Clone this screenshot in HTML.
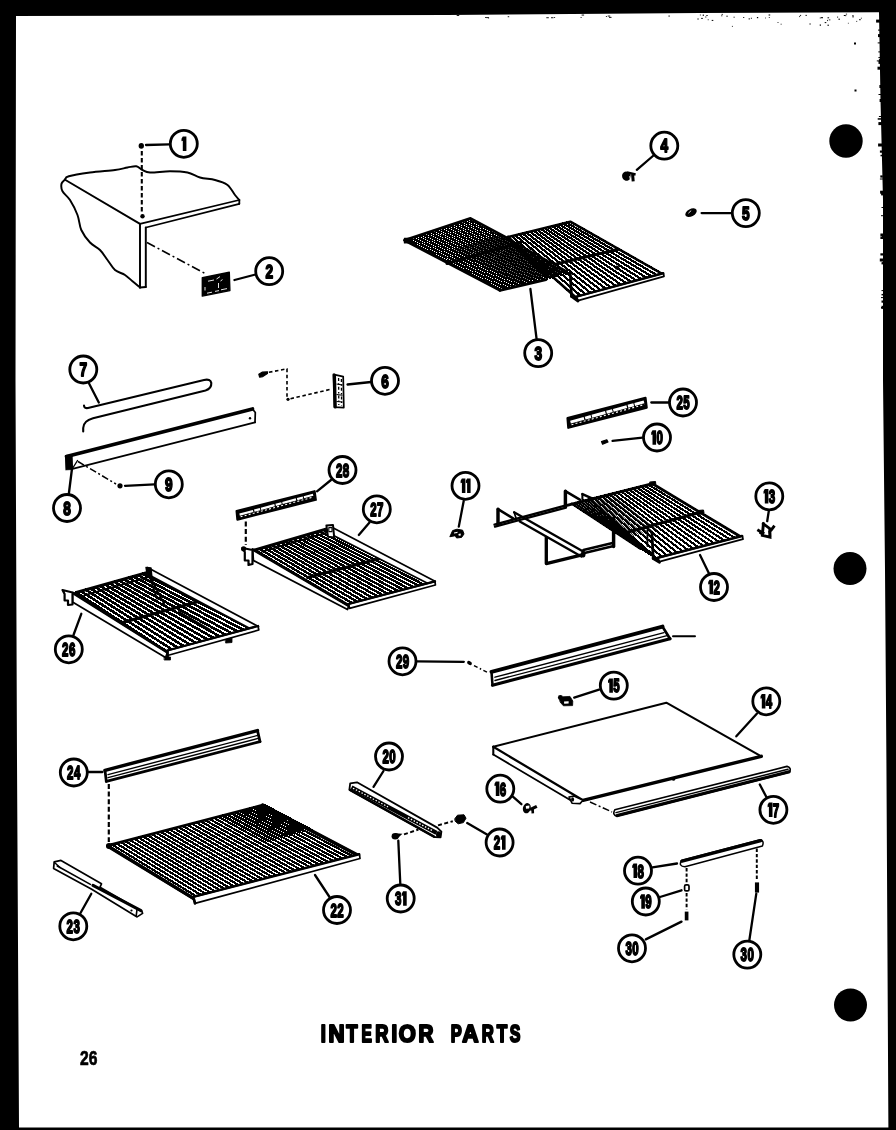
<!DOCTYPE html>
<html><head><meta charset="utf-8"><title>Interior Parts</title>
<style>
html,body{margin:0;padding:0;background:#000;}
body{width:896px;height:1130px;overflow:hidden;position:relative;}
svg{position:absolute;left:0;top:0;display:block;}
text{font-family:"Liberation Sans",sans-serif;font-weight:bold;}
</style></head><body>
<svg width="896" height="1130" viewBox="0 0 896 1130">
<defs><filter id="nf" x="0" y="0" width="896" height="1130" filterUnits="userSpaceOnUse"><feOffset dx="0" dy="0"/></filter></defs>
<rect x="0" y="0" width="896" height="1130" fill="#000"/>
<polygon points="16,16 448,15 700,13 879,12.3 880.5,100 883,200 883,380 885,570 886.4,760 888.4,1127.5 19,1127.5 17,760 15.5,380" fill="#fff"/>
<g stroke="#000" fill="none" stroke-linecap="round" stroke-linejoin="round">
<g fill="#000" stroke="none"><rect x="750.9" y="17.7" width="0.8" height="1.2"/><rect x="707.7" y="19.4" width="1.0" height="0.8"/><rect x="706.2" y="15.1" width="1.6" height="0.8"/><rect x="845.4" y="15.0" width="0.8" height="1.2"/><rect x="800.1" y="14.9" width="1.0" height="1.0"/><rect x="768.8" y="17.2" width="1.0" height="0.8"/><rect x="799.3" y="15.9" width="0.8" height="1.2"/><rect x="701.2" y="17.9" width="1.6" height="1.0"/><rect x="777.5" y="22.2" width="1.0" height="0.8"/><rect x="821.4" y="17.2" width="1.6" height="1.0"/><rect x="827.1" y="19.9" width="0.8" height="1.2"/><rect x="768.6" y="14.5" width="1.6" height="1.0"/><rect x="697.4" y="18.5" width="1.3" height="1.0"/><rect x="820.7" y="17.3" width="1.6" height="0.8"/><rect x="847.9" y="22.8" width="0.8" height="0.8"/><rect x="827.5" y="17.3" width="1.6" height="1.0"/><rect x="824.7" y="22.1" width="1.6" height="1.0"/><rect x="721.6" y="13.9" width="1.3" height="0.8"/><rect x="828.8" y="19.5" width="1.6" height="0.8"/><rect x="721.3" y="15.3" width="1.0" height="1.0"/><rect x="852.4" y="16.2" width="1.3" height="1.2"/><rect x="856.2" y="20.9" width="1.0" height="0.8"/><rect x="733.6" y="16.7" width="1.0" height="1.0"/><rect x="743.0" y="17.0" width="1.3" height="0.8"/><rect x="819.8" y="17.5" width="0.8" height="1.0"/><rect x="859.1" y="19.2" width="1.6" height="1.0"/><rect x="765.0" y="17.6" width="0.8" height="0.8"/><rect x="702.7" y="14.6" width="1.3" height="1.2"/><rect x="699.9" y="14.5" width="0.8" height="1.0"/><rect x="805.4" y="14.9" width="1.6" height="0.8"/><rect x="809.3" y="23.6" width="1.6" height="0.8"/><rect x="711.7" y="19.9" width="1.6" height="1.0"/><rect x="748.6" y="18.4" width="1.3" height="1.0"/><rect x="845.8" y="13.7" width="1.3" height="0.8"/><rect x="819.7" y="24.5" width="1.3" height="1.2"/><rect x="852.3" y="15.2" width="1.3" height="0.8"/><rect x="756.9" y="17.0" width="1.3" height="1.2"/><rect x="731.9" y="25.9" width="1.0" height="0.8"/><rect x="843.8" y="15.0" width="1.6" height="1.0"/><rect x="827.4" y="24.7" width="1.6" height="1.0"/><rect x="726.4" y="15.7" width="1.3" height="1.0"/><rect x="705.1" y="16.6" width="1.3" height="0.8"/><rect x="780.7" y="23.7" width="0.8" height="1.0"/><rect x="860.9" y="17.7" width="0.8" height="1.0"/><rect x="837.1" y="16.6" width="1.0" height="1.0"/><rect x="838.4" y="18.7" width="1.6" height="1.0"/><rect x="546.3" y="17.3" width="2.5" height="0.9"/><rect x="488.1" y="17.5" width="1.0" height="0.9"/><rect x="486.3" y="17.2" width="2.5" height="0.9"/><rect x="485.1" y="17.0" width="1.5" height="0.9"/><rect x="607.7" y="15.6" width="2.5" height="0.9"/><rect x="581.6" y="14.6" width="2.5" height="0.9"/><rect x="605.9" y="16.1" width="1.0" height="0.9"/><rect x="554.1" y="17.1" width="1.0" height="0.9"/><rect x="456.7" y="15.1" width="2.5" height="0.9"/><rect x="507.7" y="16.3" width="1.5" height="0.9"/><rect x="580.6" y="17.0" width="1.0" height="0.9"/><rect x="668.4" y="15.6" width="1.5" height="0.9"/><rect x="609.0" y="16.9" width="2.5" height="0.9"/><rect x="551.0" y="17.3" width="2.5" height="0.9"/><rect x="878.4" y="57.1" width="2.5" height="1.0"/><rect x="881.5" y="290.1" width="2.5" height="1.0"/><rect x="881.5" y="259.7" width="2.5" height="1.5"/><rect x="876.8" y="60.4" width="4.2" height="1.0"/><rect x="880.1" y="190.7" width="3.0" height="3.0"/><rect x="882.0" y="262.3" width="2.0" height="1.0"/><rect x="878.5" y="94.0" width="3.0" height="1.0"/><rect x="879.8" y="258.5" width="4.2" height="3.0"/><rect x="881.1" y="192.4" width="2.0" height="3.0"/><rect x="877.7" y="118.2" width="4.2" height="1.5"/><rect x="880.4" y="233.5" width="3.6" height="3.0"/><rect x="880.3" y="175.4" width="2.5" height="2.2"/><rect x="881.5" y="305.8" width="2.5" height="3.0"/><rect x="878.9" y="59.1" width="2.0" height="3.0"/><rect x="880.5" y="154.8" width="2.0" height="1.5"/><rect x="879.9" y="150.5" width="2.5" height="2.2"/><rect x="881.5" y="262.2" width="2.5" height="2.2"/><rect x="878.5" y="60.9" width="2.5" height="3.0"/><rect x="879.4" y="85.0" width="2.0" height="3.0"/><rect x="881.5" y="293.9" width="2.5" height="1.5"/><rect x="877.5" y="66.7" width="3.6" height="3.0"/><rect x="879.5" y="122.5" width="2.5" height="2.2"/><rect x="878.9" y="116.0" width="3.0" height="1.0"/><rect x="878.4" y="122.1" width="3.6" height="3.0"/><rect x="880.4" y="236.8" width="3.6" height="2.2"/><rect x="879.9" y="178.5" width="3.0" height="1.0"/><rect x="878.3" y="51.4" width="2.5" height="1.0"/><rect x="877.7" y="42.4" width="3.0" height="1.0"/><rect x="881.5" y="300.5" width="2.5" height="2.2"/><rect x="880.4" y="253.3" width="3.6" height="2.2"/><rect x="878.1" y="143.5" width="4.2" height="3.0"/><rect x="882.0" y="235.9" width="2.0" height="2.2"/><rect x="878.0" y="34.1" width="2.5" height="3.0"/><rect x="881.0" y="297.1" width="3.0" height="1.0"/><rect x="881.0" y="215.2" width="3.0" height="1.0"/><rect x="881.5" y="207.0" width="2.5" height="1.0"/><rect x="879.6" y="99.0" width="2.0" height="3.0"/><rect x="876.1" y="19.6" width="4.2" height="3.0"/><rect x="881.0" y="307.0" width="3.0" height="1.5"/><rect x="878.0" y="29.6" width="2.5" height="1.0"/><rect x="854.0" y="42.5" width="2" height="2"/><rect x="854.5" y="89.5" width="2" height="2"/></g>
<circle cx="846" cy="141" r="16.7" fill="#000" stroke="none"/>
<circle cx="850" cy="568.6" r="16.5" fill="#000" stroke="none"/>
<circle cx="850.5" cy="1005" r="16.5" fill="#000" stroke="none"/>
<path d="M65,179.5 C65.6,179 64.6,177.5 68.8,176.3 C73,175.1 82.3,173.6 90,172.5 C97.7,171.4 108.8,170.8 115,170 C121.2,169.2 124,168.1 127.5,167.5 C131.1,166.9 133.8,165.9 136.3,166.3 C138.8,166.7 140.2,169 142.5,170 C144.8,171 145.4,172.3 150,172.5 C154.6,172.7 163.8,171.3 170,171.3 C176.2,171.3 182.5,171.5 187.5,172.5 C192.5,173.5 195.4,176.2 200,177.5 C204.6,178.8 210.4,178.8 215,180 C219.6,181.2 224.2,182.5 227.5,185 C230.8,187.5 233,192.5 235,195 C237,197.5 238.6,199.2 239.3,200" stroke-width="1.95" fill="none"/>
<path d="M65,179.5 C64.4,180.2 61.9,181.8 61.5,183.8 C61.1,185.8 61.1,188.6 62.5,191.3 C63.9,194 67.5,196.1 70,200 C72.5,203.9 75.6,210 77.5,215 C79.4,220 79.2,225.4 81.3,230 C83.4,234.6 86.9,239.2 90,242.5 C93.1,245.8 97.1,247.1 100,250 C102.9,252.9 105,256.7 107.5,260 C110,263.3 112.1,267.5 115,270 C117.9,272.5 122.1,273.1 125,275 C127.9,276.9 130,279.2 132.5,281.3 C135,283.4 138.8,286.5 140,287.5" stroke-width="1.95" fill="none"/>
<line x1="239.3" y1="200" x2="239.3" y2="203.8" stroke-width="1.84"/>
<line x1="239.3" y1="200" x2="141" y2="223.6" stroke-width="1.72"/>
<line x1="239.3" y1="203.8" x2="146" y2="227.5" stroke-width="1.72"/>
<line x1="65.5" y1="180" x2="140" y2="223.8" stroke-width="1.95"/>
<line x1="140" y1="223.8" x2="140" y2="287.5" stroke-width="1.95"/>
<line x1="145.8" y1="227.5" x2="145.8" y2="287" stroke-width="1.95"/>
<line x1="140" y1="287.5" x2="145.8" y2="287" stroke-width="1.84"/>
<ellipse cx="141.3" cy="145.8" rx="2.7" ry="2.9" fill="#000" stroke="none" transform="rotate(0 141.3 145.8)"/>
<line x1="141.8" y1="151" x2="141.8" y2="213" stroke-width="2.07" stroke-dasharray="4.5 2.5" stroke-linecap="butt"/>
<ellipse cx="142.5" cy="216.3" rx="2.2" ry="2.2" fill="#000" stroke="none" transform="rotate(0 142.5 216.3)"/>
<line x1="147" y1="242.5" x2="207" y2="274.5" stroke-width="1.61" stroke-dasharray="9 3 2 3" stroke-linecap="butt"/>
<path d="M202.3,277.7 L229.3,272.2 L229.9,290.6 L202.3,296.1 Z" stroke-width="1.38" fill="#000"/>
<path d="M208,281.2 L214,280 M216.5,279 L220,276.6 M220.5,281 L222.5,279.6 M218.5,283 L218.5,288 M205,287 L205,290.5 M207,293.2 L212,292.2 M215,291.4 L219,290.6 M221,289.8 L227,288.6" stroke="#fff" stroke-width="0.9" stroke-linecap="butt"/>
<path d="M404.4,240.2 L499.9,290.4 M406.5,239.5 L502.2,289.9 M408.7,238.8 L504.5,289.3 M410.8,238.1 L506.8,288.8 M412.9,237.4 L509,288.2 M415.1,236.7 L511.3,287.7 M417.2,236 L513.6,287.1 M419.3,235.3 L515.9,286.6 M421.5,234.6 L518.2,286 M423.6,233.9 L520.5,285.5 M425.7,233.2 L522.7,284.9 M427.9,232.5 L525,284.4 M430,231.8 L527.3,283.9 M432.1,231.1 L529.6,283.3 M434.3,230.4 L531.9,282.8 M436.4,229.7 L534.2,282.2 M438.5,228.9 L536.4,281.7 M440.6,228.2 L538.7,281.1 M442.8,227.5 L541,280.6 M444.9,226.8 L543.3,280 M447,226.1 L545.6,279.5 M449.2,225.4 L547.9,279 M451.3,224.7 L550.1,278.4 M453.4,224 L552.4,277.9 M455.6,223.3 L554.7,277.3 M457.7,222.6 L557,276.8 M459.8,221.9 L559.3,276.2 M462,221.2 L561.6,275.7 M464.1,220.5 L563.8,275.1 M466.2,219.8 L566.1,274.6 M468.4,219.1 L568.4,274 M470.5,218.4 L570.7,273.5" stroke-width="1.35" fill="none" shape-rendering="crispEdges"/>
<path d="M499.9,290.4 L404.4,240.2 L470.5,218.4 L507,238" stroke-width="2.76" fill="none"/>
<line x1="499.9" y1="290.4" x2="546" y2="279.6" stroke-width="2.76"/>
<line x1="447" y1="263.5" x2="520.5" y2="242.5" stroke-width="2.99"/>
<path d="M404.4,238.4 L412,238.2 L412,242.6 L404.4,243 Z" stroke-width="1.15" fill="#000"/>
<path d="M454.3,248.8 L517.4,282.5 M456.5,248.2 L519.6,281.9 M458.6,247.6 L521.9,281.4 M460.8,246.9 L524.1,280.8 M462.9,246.3 L526.4,280.3 M465.1,245.6 L528.6,279.8 M467.2,245 L530.9,279.2 M469.4,244.3 L533.1,278.7 M471.5,243.7 L535.3,278.1 M473.7,243 L537.6,277.6 M475.8,242.4 L539.8,277 M478,241.7 L542.1,276.5 M480.1,241.1 L544.3,275.9 M482.3,240.4 L546.6,275.4 M484.4,239.8 L548.8,274.8 M486.6,239.1 L551.1,274.3 M488.7,238.5 L553.3,273.8 M490.9,237.9 L555.6,273.2 M493,237.2 L557.8,272.7 M495.2,236.6 L560,272.1 M497.3,235.9 L562.3,271.6 M499.5,235.3 L564.5,271 M501.6,234.6 L566.8,270.5" stroke-width="0.8" fill="none"/>
<path d="M508,237.1 L576.5,298 M511.7,236.2 L581.6,296.6 M515.3,235.3 L586.6,295.2 M519,234.4 L591.7,293.8 M522.7,233.5 L596.7,292.4 M526.3,232.6 L601.8,290.9 M530,231.7 L606.9,289.5 M533.7,230.8 L611.9,288.1 M537.3,229.9 L617,286.7 M541,228.9 L622,285.3 M544.6,228 L627.1,283.9 M548.3,227.1 L632.1,282.5 M552,226.2 L637.2,281.1 M555.6,225.3 L642.3,279.6 M559.3,224.4 L647.3,278.2 M563,223.5 L652.4,276.8 M566.6,222.6 L657.4,275.4 M570.3,221.7 L662.5,274" stroke-width="2.2" fill="none" shape-rendering="crispEdges"/>
<path d="M576.5,298 L508,237.1 L570.3,221.7 L662.5,274" stroke-width="2.53" fill="none"/>
<line x1="555.2" y1="264.2" x2="618.5" y2="249.2" stroke-width="2.99"/>
<line x1="508" y1="237.1" x2="546" y2="276" stroke-width="2.99"/>
<path d="M576.5,296.6 L663.5,273.2 L664,276.4 L578,300.6 Z" stroke-width="1.72" fill="#fff"/>
<line x1="576.5" y1="296.6" x2="663" y2="273.2" stroke-width="2.53"/>
<line x1="570.3" y1="274.3" x2="571.5" y2="296.4" stroke-width="2.76"/>
<line x1="571.5" y1="296.4" x2="578" y2="301" stroke-width="2.76"/>
<ellipse cx="617" cy="267.6" rx="2.2" ry="2.2" fill="#000" stroke="none" transform="rotate(0 617 267.6)"/>
<ellipse cx="626.4" cy="176.2" rx="4.3" ry="4.7" fill="#000" stroke="none" transform="rotate(-20 626.4 176.2)"/>
<path d="M627,172.6 L635.6,174.4" stroke-width="2.6" stroke-linecap="butt"/>
<path d="M632.6,174.5 L633.2,181.4" stroke-width="3.0" stroke-linecap="butt"/>
<path d="M629.8,176.2 L630.6,180.6" stroke="#fff" stroke-width="1.1" stroke-linecap="butt"/>
<ellipse cx="691" cy="212.7" rx="6.2" ry="3.7" fill="#000" stroke="none" transform="rotate(-28 691 212.7)"/>
<path d="M688.4,213.2 L691.2,210.6" stroke="#fff" stroke-width="0.9" stroke-linecap="butt"/>
<path d="M84,405.5 Q84,408.6 88,408 L204,380 Q210.5,378.6 211.3,383 Q211.6,388.6 205.5,390.4 L93,418.3 Q83.6,420.8 83.2,428 L83.2,431.5" stroke-width="2.1" fill="none"/>
<line x1="66.5" y1="456.5" x2="252.5" y2="409" stroke-width="3.68"/>
<line x1="72.5" y1="468.8" x2="255" y2="422.3" stroke-width="1.84"/>
<path d="M252.5,409 L255.3,412.5 L255,422.3" stroke-width="1.72" fill="none"/>
<ellipse cx="250" cy="418.3" rx="1.2" ry="1.2" fill="#000" stroke="none" transform="rotate(0 250 418.3)"/>
<path d="M65.5,455.5 L72,455 L72.5,469.5 L66,469.8 Z" stroke-width="1.15" fill="#000"/>
<line x1="77.5" y1="460.5" x2="72.8" y2="468" stroke-width="1.38"/>
<line x1="78" y1="461.5" x2="116" y2="484" stroke-width="1.49" stroke-dasharray="7 2.5 2 2.5" stroke-linecap="butt"/>
<ellipse cx="120" cy="485.8" rx="2.6" ry="2.6" fill="#000" stroke="none" transform="rotate(0 120 485.8)"/>
<path d="M258.8,374.2 L262.5,372 L267.6,371.8 L267.4,373.6 L262.8,376.6 L259.6,377.2 Z" fill="#000" stroke-width="1.2"/>
<path d="M269,372.3 L287,368.8 L287,398.5" stroke-width="1.61" fill="none" stroke-dasharray="3.5 2.6" stroke-linecap="butt"/>
<ellipse cx="288" cy="399.3" rx="1.6" ry="1.6" fill="#000" stroke="none" transform="rotate(0 288 399.3)"/>
<line x1="290.5" y1="398.7" x2="332" y2="389" stroke-width="1.61" stroke-dasharray="3.5 2.6" stroke-linecap="butt"/>
<path d="M333.4,374.4 L343.2,376.6 L343.8,407.6 L334.4,407.2 Z" stroke-width="1.72" fill="#fff"/>
<line x1="334.4" y1="375" x2="335.2" y2="407" stroke-width="3.22"/>
<path d="M338.6,378 L338.8,405 M341.4,379 L341.6,405.5" stroke="#000" stroke-width="1.3" stroke-dasharray="3 2.2 1.5 2" stroke-linecap="butt"/>
<path d="M336.5,384 L342.5,385 M336.5,394.5 L342.5,395.2 M336.5,401.5 L342.5,402" stroke="#000" stroke-width="1.1" stroke-linecap="butt"/>
<path d="M567.5,418 L645.5,397.8 L646.7,407.6 L568.3,427.8 Z" fill="#000" stroke-width="2.2"/>
<path d="M570.5,422.1 L644,401.9" stroke="#fff" stroke-width="3.0" stroke-dasharray="14 1.2 6 1" stroke-linecap="butt"/>
<path d="M571.5,424.7 L644.5,404.5" stroke="#fff" stroke-width="1.1" stroke-dasharray="2 2.2" stroke-linecap="butt"/>
<path d="M601.5,441.6 L606.8,439.8 L608,442 L602.6,444.2 Z" fill="#000" stroke-width="1.2"/>
<path d="M450,536.4 L452.6,530.6 L457,529.2 L462.6,530.2 L464,534 L461.6,537.4 L456.6,538 L455.4,536 Z" fill="#000" stroke-width="1"/>
<path d="M454,532.4 L457.6,531.8 L457.4,533 L454,533.6 Z M458.4,534 L460.6,533.4 L460.8,535.4 L458.8,535.8 Z" fill="#fff" stroke="none"/>
<path d="M763.4,523.8 L762.3,535.4 L770,537.2 L769.8,529.6 M763.4,523.8 L771.4,529.8 L773.6,526.8 M758.6,530.4 L763,533" stroke-width="2.9" stroke-linecap="square" stroke-linejoin="miter"/>
<path d="M768.2,531 L769,536.4 L771.2,536.8 L771,530.2 Z M759.4,531.8 L763.4,534.6 L763,536 L759,533.4 Z" fill="#000" stroke="none"/>
<line x1="498" y1="509.2" x2="498" y2="524.4" stroke-width="3.45"/>
<line x1="498" y1="509.2" x2="513.5" y2="518.6" stroke-width="2.53"/>
<line x1="494.5" y1="524.6" x2="566" y2="505.4" stroke-width="2.3"/>
<line x1="495" y1="526.6" x2="566" y2="507.6" stroke-width="2.3"/>
<line x1="565.4" y1="491.1" x2="565.4" y2="505.5" stroke-width="3.45"/>
<line x1="565.4" y1="491.1" x2="579.8" y2="499.6" stroke-width="2.53"/>
<line x1="582.4" y1="494.1" x2="592" y2="498.4" stroke-width="2.53"/>
<line x1="582.4" y1="494.1" x2="582.4" y2="499.5" stroke-width="2.07"/>
<line x1="514.1" y1="512.2" x2="583.6" y2="551.8" stroke-width="2.3"/>
<line x1="519.8" y1="521.6" x2="581.4" y2="556.6" stroke-width="2.3"/>
<line x1="514.1" y1="512.2" x2="516.5" y2="519.4" stroke-width="1.72"/>
<line x1="583.4" y1="550" x2="613.6" y2="542.8" stroke-width="2.53"/>
<line x1="583.4" y1="553.2" x2="613.6" y2="546" stroke-width="2.53"/>
<line x1="613.6" y1="518.2" x2="613.6" y2="546.4" stroke-width="3.45"/>
<ellipse cx="583.2" cy="554.3" rx="2.3" ry="3.2" fill="#000" stroke="none" transform="rotate(0 583.2 554.3)"/>
<path d="M546.3,537.3 L546.3,563.6 L583,554.6" stroke-width="3.33" fill="none"/>
<path d="M589,498.6 L657.8,559.2 M593,497.7 L663,557.8 M596.9,496.8 L668.3,556.5 M600.9,495.8 L673.5,555.1 M604.9,494.9 L678.7,553.7 M608.8,494 L684,552.4 M612.8,493.1 L689.2,551 M616.8,492.1 L694.4,549.6 M620.8,491.2 L699.6,548.2 M624.7,490.3 L704.9,546.9 M628.7,489.4 L710.1,545.5 M632.7,488.4 L715.3,544.1 M636.6,487.5 L720.6,542.8 M640.6,486.6 L725.8,541.4 M644.6,485.7 L731,540 M648.5,484.7 L736.3,538.7 M652.5,483.8 L741.5,537.3" stroke-width="2.1" fill="none" shape-rendering="crispEdges"/>
<line x1="566" y1="505.6" x2="652.5" y2="483.8" stroke-width="2.99"/>
<line x1="652.5" y1="483.8" x2="741.5" y2="537.3" stroke-width="2.76"/>
<path d="M650,482 L655.5,481.5 L655.8,484.5 L651,485.5 Z" fill="#000" stroke-width="1"/>
<path d="M571.5,503.6 L640,548.6 M574.4,502.8 L643,550.4 M577.3,501.9 L645.9,552.1 M580.2,501.1 L648.9,553.9 M583.2,500.3 L651.9,555.7 M586.1,499.4 L654.8,557.4 M589,498.6 L657.8,559.2" stroke-width="1.7" fill="none" shape-rendering="crispEdges"/>
<path d="M572.9,503.2 L641.4,549.4 M575.8,502.4 L644.4,551.2 M578.7,501.5 L647.4,553 M581.6,500.7 L650.3,554.7 M584.6,499.9 L653.3,556.5 M587.5,499 L656.3,558.3 M590.4,498.2 L659.2,560" stroke-width="0.8" fill="none"/>
<path d="M590.9,498.2 L633.9,535.6 M594.7,497.3 L638.5,534.4 M598.5,496.4 L643.1,533.3 M602.3,495.5 L647.6,532.1 M606.1,494.6 L652.2,531 M610,493.7 L656.7,529.8" stroke-width="0.8" fill="none"/>
<path d="M640,548.6 L571.5,503.6" stroke-width="2.07" fill="none"/>
<line x1="625.5" y1="532.8" x2="700.5" y2="512.3" stroke-width="2.99"/>
<path d="M698,510.5 L703.5,510 L704,513 L699,514.5 Z" fill="#000" stroke-width="1"/>
<path d="M657.8,557.8 L742.4,535.8 L743,539.2 L659.5,561.6 Z" stroke-width="1.72" fill="#fff"/>
<line x1="657.8" y1="557.8" x2="742" y2="536" stroke-width="2.53"/>
<line x1="651.9" y1="532.5" x2="653.2" y2="558.5" stroke-width="2.76"/>
<line x1="653.2" y1="558.5" x2="659.5" y2="562.2" stroke-width="2.76"/>
<line x1="647.4" y1="530" x2="647.4" y2="546" stroke-width="1.84"/>
<path d="M236.6,511 L314.6,491.2 L315.8,499.8 L237.4,519.6 Z" fill="#000" stroke-width="2.2"/>
<path d="M239.6,514.6 L313.1,494.8" stroke="#fff" stroke-width="2.2" stroke-dasharray="14 1.2 6 1" stroke-linecap="butt"/>
<path d="M240.6,516.8 L313.6,497" stroke="#fff" stroke-width="1.1" stroke-dasharray="2 2.2" stroke-linecap="butt"/>
<line x1="245.8" y1="521.5" x2="245.8" y2="545" stroke-width="2.18" stroke-dasharray="5 2.6" stroke-linecap="butt"/>
<path d="M255,550 L348.8,605.5 M259.3,548.8 L353.8,604.1 M263.5,547.5 L358.9,602.7 M267.8,546.3 L363.9,601.4 M272.1,545 L369,600 M276.3,543.8 L374,598.6 M280.6,542.5 L379,597.2 M284.9,541.3 L384.1,595.8 M289.1,540 L389.1,594.4 M293.4,538.8 L394.2,593.1 M297.6,537.5 L399.2,591.7 M301.9,536.3 L404.3,590.3 M306.2,535 L409.3,588.9 M310.4,533.8 L414.3,587.5 M314.7,532.5 L419.4,586.1 M319,531.3 L424.4,584.8 M323.2,530 L429.5,583.4 M327.5,528.8 L434.5,582" stroke-width="2.35" fill="none" shape-rendering="crispEdges"/>
<line x1="255" y1="550" x2="327.5" y2="528.8" stroke-width="3.22"/>
<line x1="262" y1="551.6" x2="331" y2="531.4" stroke-width="1.72"/>
<line x1="307.5" y1="577.5" x2="383.8" y2="557.5" stroke-width="2.99"/>
<path d="M252.5,549 L348.8,606 L347.5,609.5 L253.4,560.5 Z" stroke-width="1.84" fill="#fff"/>
<line x1="254" y1="550" x2="348.8" y2="605.6" stroke-width="2.99"/>
<path d="M242.5,548 L252.5,550 L252.5,564 L248.5,565 L248.5,560.5 L244.8,560.5 L244.8,552 Z" fill="#fff" stroke-width="2.2"/>
<ellipse cx="243.6" cy="548.8" rx="2.6" ry="2.6" fill="#000" stroke="none" transform="rotate(0 243.6 548.8)"/>
<path d="M330,526.2 L435,581.3 L428,583.6 L332.5,535 Z" stroke-width="1.72" fill="#fff"/>
<path d="M326.4,525.4 L333,525 L334.2,537.6 L328,536.8 Z" fill="#fff" stroke-width="2"/>
<rect x="328.8" y="527.6" width="3.2" height="4" fill="none" stroke-width="1.1"/>
<path d="M348.8,603.8 L435,581.3 L435.4,585 L349.5,608.3 Z" stroke-width="1.72" fill="#fff"/>
<line x1="348.8" y1="603.8" x2="435" y2="581.3" stroke-width="2.3"/>
<path d="M76.3,592.5 L167.5,652 M81,591.2 L173.5,650.4 M85.8,589.8 L179.4,648.7 M90.5,588.5 L185.4,647.1 M95.3,587.2 L191.3,645.4 M100,585.8 L197.3,643.8 M104.8,584.5 L203.2,642.1 M109.5,583.2 L209.2,640.5 M114.3,581.8 L215.1,638.8 M119,580.5 L221.1,637.2 M123.8,579.2 L227,635.5 M128.5,577.8 L233,633.9 M133.3,576.5 L238.9,632.2 M138,575.2 L244.9,630.6 M142.8,573.8 L250.8,628.9 M147.5,572.5 L256.8,627.3" stroke-width="2.6" fill="none" shape-rendering="crispEdges"/>
<line x1="76.3" y1="592.5" x2="147.5" y2="572.5" stroke-width="2.99"/>
<line x1="84" y1="595.4" x2="151" y2="576.4" stroke-width="1.72"/>
<line x1="122.5" y1="622.5" x2="203.8" y2="600" stroke-width="3.22"/>
<line x1="148.7" y1="574" x2="157" y2="598.7" stroke-width="1.84"/>
<line x1="148.7" y1="574" x2="165" y2="605.7" stroke-width="1.84"/>
<line x1="179" y1="612.7" x2="209.7" y2="630.3" stroke-width="3.22"/>
<path d="M72.5,592.5 L167.5,652.5 L165.5,657.5 L72.5,602 Z" stroke-width="1.72" fill="#fff"/>
<line x1="74" y1="593.4" x2="167.5" y2="652.2" stroke-width="2.99"/>
<path d="M62.5,590 L72.5,592.5 L72.5,604.5 L68,605 L68,600.5 L64.6,600.5 L64.6,594 Z" fill="#fff" stroke-width="2.2"/>
<path d="M147.5,567.5 L258.5,626.5 L250,628.5 L151,576 Z" stroke-width="1.72" fill="#fff"/>
<path d="M146,567.5 L151,568 L152,578 L147.5,577 Z" fill="#000" stroke-width="1.4"/>
<path d="M167.5,650.5 L258,626 L258.8,630 L167.5,655.5 Z" stroke-width="1.72" fill="#fff"/>
<line x1="167.5" y1="650.5" x2="258" y2="626" stroke-width="2.3"/>
<line x1="167.5" y1="651" x2="167.5" y2="658.5" stroke-width="2.76"/>
<path d="M164.5,657 L170.5,657 L170.5,660 L164.5,660 Z" fill="#000" stroke-width="0.8"/>
<path d="M225.5,639.5 L232,638 L232,642.5 L226,643 Z" fill="#000" stroke-width="0.8"/>
<ellipse cx="469.5" cy="663" rx="2.6" ry="1.8" fill="#000" stroke="none" transform="rotate(30 469.5 663)"/>
<line x1="474" y1="665.6" x2="489" y2="673.2" stroke-width="1.49" stroke-dasharray="4 2.5 1.5 2.5" stroke-linecap="butt"/>
<line x1="491.5" y1="671.8" x2="662.5" y2="626.6" stroke-width="3.91"/>
<line x1="495" y1="677.2" x2="664" y2="632.6" stroke-width="1.38"/>
<line x1="495" y1="680.5" x2="667" y2="635.6" stroke-width="1.38"/>
<line x1="492.5" y1="685.2" x2="670" y2="638.8" stroke-width="3.22"/>
<line x1="491.5" y1="671.8" x2="492.5" y2="685.2" stroke-width="2.53"/>
<line x1="662.5" y1="626.6" x2="670" y2="638.8" stroke-width="2.76"/>
<line x1="673" y1="636.3" x2="695" y2="636.3" stroke-width="1.95"/>
<ellipse cx="560.4" cy="697.4" rx="2.5" ry="2.4" fill="#000" stroke="none" transform="rotate(0 560.4 697.4)"/>
<path d="M559.4,698 L563,696.8 L570,696.4 L572.8,701 L572.6,705.6 L563.4,705.8 L560.4,702.4 Z" fill="#000" stroke-width="0.8"/>
<path d="M564,701.4 L568.6,701.2 L568.6,703.6 L564.2,703.8 Z" fill="#fff" stroke="none"/>
<path d="M493.3,746.8 L666.3,702.7 L761.3,756.3" stroke-width="2.07" fill="none"/>
<line x1="761.3" y1="756.3" x2="583" y2="800.3" stroke-width="3.45"/>
<line x1="493.3" y1="746.8" x2="583" y2="800.3" stroke-width="2.3"/>
<line x1="493.3" y1="746.8" x2="493.3" y2="754.5" stroke-width="2.07"/>
<line x1="493.3" y1="754.5" x2="571" y2="800.5" stroke-width="1.84"/>
<path d="M569,797 L574,796 L583,800.3 L580,803.6 L572,803.2 Z" fill="#fff" stroke-width="1.6"/>
<ellipse cx="572.6" cy="799.4" rx="1.5" ry="2.2" fill="#000" stroke="none" transform="rotate(0 572.6 799.4)"/>
<ellipse cx="673.5" cy="779.2" rx="1.6" ry="1.6" fill="#000" stroke="none" transform="rotate(0 673.5 779.2)"/>
<ellipse cx="526.8" cy="808.2" rx="3.9" ry="5.2" fill="#000" stroke="none" transform="rotate(15 526.8 808.2)"/>
<path d="M525.8,806 L529.4,805.6 L529.2,808.4 L526,808.8 Z" fill="#fff" stroke="none"/>
<path d="M532.6,808.4 L532.8,813.4" stroke-width="2.6" stroke-linecap="butt"/>
<path d="M530,809.6 L536.8,806.4" stroke-width="3.2" stroke-linecap="butt"/>
<line x1="590" y1="802" x2="612" y2="812" stroke-width="1.49" stroke-dasharray="7 2.5 2 2.5" stroke-linecap="butt"/>
<path d="M614.8,809.8 L787,766.4 Q791.6,767.4 789.6,772.4 L617,816.4 Q612,815 614.8,809.8 Z" fill="#fff" stroke-width="1.6"/>
<line x1="616" y1="812.6" x2="788" y2="769.2" stroke-width="1.49"/>
<line x1="617" y1="815.4" x2="789" y2="771.6" stroke-width="2.99"/>
<path d="M681.4,860.4 L760,839.8 Q764.6,840.6 762.4,846 L685,866.8 Q678.2,866.4 681.4,860.4 Z" fill="#fff" stroke-width="1.5"/>
<line x1="682" y1="861.2" x2="760.8" y2="840.6" stroke-width="3.33"/>
<line x1="686.6" y1="868" x2="686.6" y2="883.5" stroke-width="1.95" stroke-dasharray="3.4 2" stroke-linecap="butt"/>
<rect x="684.6" y="884.8" width="4.4" height="6" rx="1.4" fill="#fff" stroke-width="1.7"/>
<line x1="686.6" y1="893" x2="686.6" y2="909.5" stroke-width="1.95" stroke-dasharray="3.4 2" stroke-linecap="butt"/>
<line x1="686.6" y1="911.6" x2="686.6" y2="920.4" stroke-width="3.68" stroke-linecap="butt"/>
<line x1="756.8" y1="848.5" x2="756.8" y2="881" stroke-width="1.95" stroke-dasharray="3.4 2" stroke-linecap="butt"/>
<line x1="757" y1="882.4" x2="757" y2="892.6" stroke-width="4.14" stroke-linecap="butt"/>
<line x1="105" y1="770.3" x2="257.5" y2="730.6" stroke-width="3.45"/>
<line x1="108" y1="774.6" x2="258.6" y2="735.2" stroke-width="1.38"/>
<line x1="108" y1="777.6" x2="259" y2="738.2" stroke-width="1.38"/>
<line x1="106.3" y1="781.4" x2="260" y2="741.6" stroke-width="2.76"/>
<line x1="105" y1="770.3" x2="106.3" y2="781.4" stroke-width="2.76"/>
<line x1="257.5" y1="730.6" x2="260" y2="741.6" stroke-width="2.76"/>
<line x1="108.8" y1="784" x2="108.8" y2="842" stroke-width="2.18" stroke-dasharray="5 2.6" stroke-linecap="butt"/>
<path d="M107.5,845.7 L193.4,898.6 M111.9,844.5 L198.1,897.4 M116.4,843.4 L202.8,896.1 M120.8,842.2 L207.6,894.9 M125.2,841.1 L212.3,893.7 M129.7,839.9 L217,892.5 M134.1,838.7 L221.7,891.2 M138.5,837.6 L226.4,890 M143,836.4 L231.1,888.8 M147.4,835.3 L235.9,887.5 M151.8,834.1 L240.6,886.3 M156.3,832.9 L245.3,885.1 M160.7,831.8 L250,883.9 M165.1,830.6 L254.7,882.6 M169.6,829.5 L259.4,881.4 M174,828.3 L264.2,880.2 M178.4,827.1 L268.9,878.9 M182.9,826 L273.6,877.7 M187.3,824.8 L278.3,876.5 M191.8,823.7 L283,875.3 M196.2,822.5 L287.7,874 M200.6,821.3 L292.5,872.8 M205.1,820.2 L297.2,871.6 M209.5,819 L301.9,870.3 M213.9,817.9 L306.6,869.1 M218.4,816.7 L311.3,867.9 M222.8,815.5 L316,866.7 M227.2,814.4 L320.8,865.4 M231.7,813.2 L325.5,864.2 M236.1,812.1 L330.2,863 M240.5,810.9 L334.9,861.7 M245,809.7 L339.6,860.5 M249.4,808.6 L344.3,859.3 M253.8,807.4 L349.1,858.1 M258.3,806.3 L353.8,856.8 M262.7,805.1 L358.5,855.6" stroke-width="2.15" fill="none" shape-rendering="crispEdges"/>
<path d="M193.4,898.6 L107.5,845.7 L262.7,805.1 L358.5,855.6" stroke-width="2.76" fill="none"/>
<line x1="108" y1="846.3" x2="193.4" y2="898.2" stroke-width="3.45"/>
<ellipse cx="109" cy="846" rx="3" ry="3" fill="#000" stroke="none" transform="rotate(0 109 846)"/>
<path d="M221.4,815.9 L268,841.5 M225.8,814.8 L272.5,840.3 M230.1,813.6 L277,839.1 M234.5,812.5 L281.5,838 M238.8,811.4 L285.9,836.8 M243.1,810.2 L290.4,835.6 M247.5,809.1 L294.9,834.4 M251.8,807.9 L299.4,833.3 M256.2,806.8 L303.9,832.1 M260.5,805.7 L308.4,830.9 M264.9,804.5 L312.8,829.8" stroke-width="1.0" fill="none" shape-rendering="crispEdges"/>
<line x1="262.7" y1="805.1" x2="358.5" y2="855.6" stroke-width="3.45"/>
<path d="M193.4,896.8 L359.4,854 L360,858.5 L195,903.4 Z" stroke-width="1.72" fill="#fff"/>
<line x1="193.4" y1="896.8" x2="359" y2="854.2" stroke-width="2.53"/>
<line x1="194" y1="899.5" x2="195" y2="903.4" stroke-width="2.76"/>
<path d="M54.2,861.9 L61,860.4 L101.5,883.8 L100,887.2 L142,911.4 L142.6,913.4 L137.1,916.9 L135.9,916.3 L91.7,889.3 L53.6,868.4 Z" fill="#fff" stroke-width="1.7"/>
<line x1="57.3" y1="866" x2="90.4" y2="884.4" stroke-width="1.61"/>
<line x1="54.5" y1="862.5" x2="60" y2="867.5" stroke-width="1.49"/>
<line x1="93" y1="885.4" x2="141" y2="910.6" stroke-width="3.22"/>
<line x1="137" y1="909.5" x2="136.2" y2="915.8" stroke-width="1.61"/>
<ellipse cx="131.5" cy="910.5" rx="1.1" ry="1.1" fill="#000" stroke="none" transform="rotate(0 131.5 910.5)"/>
<path d="M350.2,783.3 L357,782.3 L437.2,827.6 L441.4,831.6 L440.6,837.4 L435,837.2 L349.4,789.6 Z" fill="#fff" stroke-width="1.8"/>
<line x1="351.5" y1="787.4" x2="436.5" y2="832.8" stroke-width="4.14" stroke-linecap="butt"/>
<path d="M353,788.2 L388,806.9 M408,817.6 L432,830.4" stroke="#fff" stroke-width="1.3" stroke-dasharray="1.5 1.7" stroke-linecap="butt"/>
<line x1="350" y1="789.8" x2="434" y2="836.6" stroke-width="2.53"/>
<ellipse cx="438.6" cy="834.6" rx="2.6" ry="3.4" fill="#000" stroke="none" transform="rotate(0 438.6 834.6)"/>
<ellipse cx="395.2" cy="836.2" rx="3.6" ry="3.2" fill="#000" stroke="none" transform="rotate(0 395.2 836.2)"/>
<path d="M395,833.2 L402.4,833.8 L397,839 Z" fill="#000" stroke="none"/>
<line x1="404" y1="834.4" x2="418.4" y2="829.5" stroke-width="1.95" stroke-dasharray="4 2.5" stroke-linecap="butt"/>
<line x1="438" y1="825.4" x2="452.8" y2="821.2" stroke-width="1.95" stroke-dasharray="4 2.5" stroke-linecap="butt"/>
<path d="M455,818.5 L457.5,815.2 L464,814.8 L466,818.2 L463.4,822.6 L458.2,823.8 L455.4,821.4 Z" fill="#000" stroke-width="1"/>
<line x1="146" y1="145" x2="169.5" y2="144.3" stroke-width="2.3"/>
<line x1="234.5" y1="280" x2="255.5" y2="274.5" stroke-width="2.3"/>
<line x1="530.4" y1="289" x2="536.6" y2="339" stroke-width="2.3"/>
<line x1="636.8" y1="169.8" x2="653.5" y2="155.5" stroke-width="2.3"/>
<line x1="701.6" y1="213.1" x2="731.5" y2="213.1" stroke-width="2.3"/>
<line x1="347.5" y1="384.5" x2="371" y2="382" stroke-width="2.3"/>
<line x1="88.8" y1="383" x2="98.8" y2="402.5" stroke-width="2.3"/>
<line x1="71.8" y1="470" x2="68.8" y2="494" stroke-width="2.3"/>
<line x1="125" y1="485.8" x2="154.5" y2="484.3" stroke-width="2.3"/>
<line x1="612.5" y1="440.8" x2="642.5" y2="437.7" stroke-width="2.3"/>
<line x1="463.7" y1="501" x2="458.8" y2="526.6" stroke-width="2.3"/>
<line x1="700" y1="555" x2="709" y2="573.5" stroke-width="2.3"/>
<line x1="768.8" y1="511" x2="767.2" y2="521.2" stroke-width="2.3"/>
<line x1="757" y1="713.5" x2="736.3" y2="736.3" stroke-width="2.3"/>
<line x1="574.2" y1="697.6" x2="599" y2="689.6" stroke-width="2.3"/>
<line x1="512.6" y1="796.4" x2="521.4" y2="804.2" stroke-width="2.3"/>
<line x1="759.8" y1="784.5" x2="766.4" y2="797" stroke-width="2.3"/>
<line x1="652.5" y1="867.3" x2="677" y2="863.5" stroke-width="2.3"/>
<line x1="660" y1="897" x2="681.5" y2="890.3" stroke-width="2.3"/>
<line x1="383.5" y1="771" x2="373.5" y2="786.9" stroke-width="2.3"/>
<line x1="467.2" y1="823" x2="487" y2="834.5" stroke-width="2.3"/>
<line x1="315" y1="875" x2="329.5" y2="897" stroke-width="2.3"/>
<line x1="91.3" y1="893.8" x2="80.5" y2="913" stroke-width="2.3"/>
<line x1="88.5" y1="772" x2="102.5" y2="772" stroke-width="2.3"/>
<line x1="651.3" y1="402.5" x2="668.5" y2="402.5" stroke-width="2.3"/>
<line x1="81.3" y1="613.8" x2="73.5" y2="635" stroke-width="2.3"/>
<line x1="369.5" y1="522.5" x2="358.8" y2="535" stroke-width="2.3"/>
<line x1="331" y1="480" x2="317" y2="491.3" stroke-width="2.3"/>
<line x1="417" y1="661.3" x2="463.8" y2="661.8" stroke-width="2.3"/>
<line x1="645.8" y1="939.4" x2="681.5" y2="921.6" stroke-width="2.3"/>
<line x1="756.3" y1="893.7" x2="749.3" y2="940.5" stroke-width="2.3"/>
<line x1="398.3" y1="840.6" x2="400.3" y2="884" stroke-width="2.3"/>
<circle cx="183.8" cy="143.8" r="13.5" fill="#fff" stroke-width="2.8"/>
<circle cx="269.2" cy="271.2" r="13.5" fill="#fff" stroke-width="2.8"/>
<circle cx="538.2" cy="353.1" r="13.5" fill="#fff" stroke-width="2.8"/>
<circle cx="664.3" cy="145.7" r="13.5" fill="#fff" stroke-width="2.8"/>
<circle cx="745.8" cy="213.1" r="13.5" fill="#fff" stroke-width="2.8"/>
<circle cx="385" cy="380.8" r="13.5" fill="#fff" stroke-width="2.8"/>
<circle cx="83.3" cy="369.5" r="13.5" fill="#fff" stroke-width="2.8"/>
<circle cx="67" cy="508" r="13.5" fill="#fff" stroke-width="2.8"/>
<circle cx="168.8" cy="484.3" r="13.5" fill="#fff" stroke-width="2.8"/>
<circle cx="657" cy="437.5" r="13.5" fill="#fff" stroke-width="2.8"/>
<circle cx="465.5" cy="485.8" r="13.5" fill="#fff" stroke-width="2.8"/>
<circle cx="714" cy="587" r="13.5" fill="#fff" stroke-width="2.8"/>
<circle cx="769.3" cy="496.3" r="13.5" fill="#fff" stroke-width="2.8"/>
<circle cx="766.3" cy="701.3" r="13.5" fill="#fff" stroke-width="2.8"/>
<circle cx="613.8" cy="685.6" r="13.5" fill="#fff" stroke-width="2.8"/>
<circle cx="500.3" cy="788.7" r="13.5" fill="#fff" stroke-width="2.8"/>
<circle cx="773.4" cy="809.8" r="13.5" fill="#fff" stroke-width="2.8"/>
<circle cx="638" cy="870.7" r="13.5" fill="#fff" stroke-width="2.8"/>
<circle cx="645.8" cy="901.5" r="13.5" fill="#fff" stroke-width="2.8"/>
<circle cx="389" cy="756.5" r="13.5" fill="#fff" stroke-width="2.8"/>
<circle cx="499.6" cy="842.5" r="13.5" fill="#fff" stroke-width="2.8"/>
<circle cx="337" cy="910" r="13.5" fill="#fff" stroke-width="2.8"/>
<circle cx="73.3" cy="926.3" r="13.5" fill="#fff" stroke-width="2.8"/>
<circle cx="73.8" cy="772.5" r="13.5" fill="#fff" stroke-width="2.8"/>
<circle cx="683" cy="402.5" r="13.5" fill="#fff" stroke-width="2.8"/>
<circle cx="68.8" cy="649.3" r="13.5" fill="#fff" stroke-width="2.8"/>
<circle cx="376.8" cy="509.3" r="13.5" fill="#fff" stroke-width="2.8"/>
<circle cx="342.5" cy="470" r="13.5" fill="#fff" stroke-width="2.8"/>
<circle cx="402.5" cy="661.3" r="13.5" fill="#fff" stroke-width="2.8"/>
<circle cx="632" cy="948.3" r="13.5" fill="#fff" stroke-width="2.8"/>
<circle cx="747.3" cy="954.6" r="13.5" fill="#fff" stroke-width="2.8"/>
<circle cx="400.7" cy="898.5" r="13.5" fill="#fff" stroke-width="2.8"/>
</g>
<g fill="#000" stroke="#000" stroke-linejoin="round" filter="url(#nf)">
<path d="M182.8,136.6 L186.4,136.6 L186.4,151 L182.8,151 L182.8,140.8 L181.5,141.2 L181.5,138.8 Z" stroke="none"/>
<text x="265.4" y="277.9" font-size="19.1" textLength="7.6" lengthAdjust="spacingAndGlyphs" stroke="#000" stroke-width="1.8" fill="#000">2</text>
<text x="534.4" y="359.9" font-size="19.1" textLength="7.6" lengthAdjust="spacingAndGlyphs" stroke="#000" stroke-width="1.8" fill="#000">3</text>
<text x="660.5" y="152.4" font-size="19.1" textLength="7.6" lengthAdjust="spacingAndGlyphs" stroke="#000" stroke-width="1.8" fill="#000">4</text>
<text x="742" y="219.8" font-size="19.1" textLength="7.6" lengthAdjust="spacingAndGlyphs" stroke="#000" stroke-width="1.8" fill="#000">5</text>
<text x="381.2" y="387.6" font-size="19.1" textLength="7.6" lengthAdjust="spacingAndGlyphs" stroke="#000" stroke-width="1.8" fill="#000">6</text>
<text x="79.5" y="376.2" font-size="19.1" textLength="7.6" lengthAdjust="spacingAndGlyphs" stroke="#000" stroke-width="1.8" fill="#000">7</text>
<text x="63.2" y="514.8" font-size="19.1" textLength="7.6" lengthAdjust="spacingAndGlyphs" stroke="#000" stroke-width="1.8" fill="#000">8</text>
<text x="165" y="491.1" font-size="19.1" textLength="7.6" lengthAdjust="spacingAndGlyphs" stroke="#000" stroke-width="1.8" fill="#000">9</text>
<path d="M652.5,430.3 L656.1,430.3 L656.1,444.7 L652.5,444.7 L652.5,434.5 L651.2,434.9 L651.2,432.5 Z" stroke="none"/>
<text x="656.4" y="444.2" font-size="19.1" textLength="6.4" lengthAdjust="spacingAndGlyphs" stroke="#000" stroke-width="1.8" fill="#000">0</text>
<path d="M461.9,478.6 L465.4,478.6 L465.4,493 L461.9,493 L461.9,482.8 L460.6,483.2 L460.6,480.8 Z" stroke="none"/>
<path d="M467.1,478.6 L470.6,478.6 L470.6,493 L467.1,493 L467.1,482.8 L465.8,483.2 L465.8,480.8 Z" stroke="none"/>
<path d="M709.5,579.8 L713.1,579.8 L713.1,594.2 L709.5,594.2 L709.5,584 L708.2,584.4 L708.2,582 Z" stroke="none"/>
<text x="713.4" y="593.8" font-size="19.1" textLength="6.4" lengthAdjust="spacingAndGlyphs" stroke="#000" stroke-width="1.8" fill="#000">2</text>
<path d="M764.8,489.1 L768.4,489.1 L768.4,503.5 L764.8,503.5 L764.8,493.3 L763.5,493.7 L763.5,491.3 Z" stroke="none"/>
<text x="768.7" y="503.1" font-size="19.1" textLength="6.4" lengthAdjust="spacingAndGlyphs" stroke="#000" stroke-width="1.8" fill="#000">3</text>
<path d="M761.8,694.1 L765.4,694.1 L765.4,708.5 L761.8,708.5 L761.8,698.3 L760.5,698.7 L760.5,696.3 Z" stroke="none"/>
<text x="765.7" y="708" font-size="19.1" textLength="6.4" lengthAdjust="spacingAndGlyphs" stroke="#000" stroke-width="1.8" fill="#000">4</text>
<path d="M609.3,678.4 L612.9,678.4 L612.9,692.8 L609.3,692.8 L609.3,682.6 L608,683 L608,680.6 Z" stroke="none"/>
<text x="613.2" y="692.4" font-size="19.1" textLength="6.4" lengthAdjust="spacingAndGlyphs" stroke="#000" stroke-width="1.8" fill="#000">5</text>
<path d="M495.8,781.5 L499.4,781.5 L499.4,795.9 L495.8,795.9 L495.8,785.7 L494.5,786.1 L494.5,783.7 Z" stroke="none"/>
<text x="499.7" y="795.5" font-size="19.1" textLength="6.4" lengthAdjust="spacingAndGlyphs" stroke="#000" stroke-width="1.8" fill="#000">6</text>
<path d="M768.9,802.6 L772.5,802.6 L772.5,817 L768.9,817 L768.9,806.8 L767.6,807.2 L767.6,804.8 Z" stroke="none"/>
<text x="772.8" y="816.5" font-size="19.1" textLength="6.4" lengthAdjust="spacingAndGlyphs" stroke="#000" stroke-width="1.8" fill="#000">7</text>
<path d="M633.5,863.5 L637.1,863.5 L637.1,877.9 L633.5,877.9 L633.5,867.7 L632.2,868.1 L632.2,865.7 Z" stroke="none"/>
<text x="637.4" y="877.5" font-size="19.1" textLength="6.4" lengthAdjust="spacingAndGlyphs" stroke="#000" stroke-width="1.8" fill="#000">8</text>
<path d="M641.3,894.3 L644.9,894.3 L644.9,908.7 L641.3,908.7 L641.3,898.5 L640,898.9 L640,896.5 Z" stroke="none"/>
<text x="645.2" y="908.2" font-size="19.1" textLength="6.4" lengthAdjust="spacingAndGlyphs" stroke="#000" stroke-width="1.8" fill="#000">9</text>
<text x="382.4" y="763.2" font-size="19.1" textLength="6.4" lengthAdjust="spacingAndGlyphs" stroke="#000" stroke-width="1.8" fill="#000">2</text>
<text x="389.2" y="763.2" font-size="19.1" textLength="6.4" lengthAdjust="spacingAndGlyphs" stroke="#000" stroke-width="1.8" fill="#000">0</text>
<text x="493.8" y="849.2" font-size="19.1" textLength="6.4" lengthAdjust="spacingAndGlyphs" stroke="#000" stroke-width="1.8" fill="#000">2</text>
<path d="M502,835.3 L505.6,835.3 L505.6,849.7 L502,849.7 L502,839.5 L500.7,839.9 L500.7,837.5 Z" stroke="none"/>
<text x="330.4" y="916.8" font-size="19.1" textLength="6.4" lengthAdjust="spacingAndGlyphs" stroke="#000" stroke-width="1.8" fill="#000">2</text>
<text x="337.2" y="916.8" font-size="19.1" textLength="6.4" lengthAdjust="spacingAndGlyphs" stroke="#000" stroke-width="1.8" fill="#000">2</text>
<text x="66.6" y="933" font-size="19.1" textLength="6.4" lengthAdjust="spacingAndGlyphs" stroke="#000" stroke-width="1.8" fill="#000">2</text>
<text x="73.5" y="933" font-size="19.1" textLength="6.4" lengthAdjust="spacingAndGlyphs" stroke="#000" stroke-width="1.8" fill="#000">3</text>
<text x="67.1" y="779.2" font-size="19.1" textLength="6.4" lengthAdjust="spacingAndGlyphs" stroke="#000" stroke-width="1.8" fill="#000">2</text>
<text x="74" y="779.2" font-size="19.1" textLength="6.4" lengthAdjust="spacingAndGlyphs" stroke="#000" stroke-width="1.8" fill="#000">4</text>
<text x="676.4" y="409.2" font-size="19.1" textLength="6.4" lengthAdjust="spacingAndGlyphs" stroke="#000" stroke-width="1.8" fill="#000">2</text>
<text x="683.2" y="409.2" font-size="19.1" textLength="6.4" lengthAdjust="spacingAndGlyphs" stroke="#000" stroke-width="1.8" fill="#000">5</text>
<text x="62.1" y="656" font-size="19.1" textLength="6.4" lengthAdjust="spacingAndGlyphs" stroke="#000" stroke-width="1.8" fill="#000">2</text>
<text x="69" y="656" font-size="19.1" textLength="6.4" lengthAdjust="spacingAndGlyphs" stroke="#000" stroke-width="1.8" fill="#000">6</text>
<text x="370.2" y="516" font-size="19.1" textLength="6.4" lengthAdjust="spacingAndGlyphs" stroke="#000" stroke-width="1.8" fill="#000">2</text>
<text x="377.1" y="516" font-size="19.1" textLength="6.4" lengthAdjust="spacingAndGlyphs" stroke="#000" stroke-width="1.8" fill="#000">7</text>
<text x="335.9" y="476.8" font-size="19.1" textLength="6.4" lengthAdjust="spacingAndGlyphs" stroke="#000" stroke-width="1.8" fill="#000">2</text>
<text x="342.8" y="476.8" font-size="19.1" textLength="6.4" lengthAdjust="spacingAndGlyphs" stroke="#000" stroke-width="1.8" fill="#000">8</text>
<text x="395.9" y="668" font-size="19.1" textLength="6.4" lengthAdjust="spacingAndGlyphs" stroke="#000" stroke-width="1.8" fill="#000">2</text>
<text x="402.8" y="668" font-size="19.1" textLength="6.4" lengthAdjust="spacingAndGlyphs" stroke="#000" stroke-width="1.8" fill="#000">9</text>
<text x="625.4" y="955" font-size="19.1" textLength="6.4" lengthAdjust="spacingAndGlyphs" stroke="#000" stroke-width="1.8" fill="#000">3</text>
<text x="632.2" y="955" font-size="19.1" textLength="6.4" lengthAdjust="spacingAndGlyphs" stroke="#000" stroke-width="1.8" fill="#000">0</text>
<text x="740.6" y="961.4" font-size="19.1" textLength="6.4" lengthAdjust="spacingAndGlyphs" stroke="#000" stroke-width="1.8" fill="#000">3</text>
<text x="747.5" y="961.4" font-size="19.1" textLength="6.4" lengthAdjust="spacingAndGlyphs" stroke="#000" stroke-width="1.8" fill="#000">0</text>
<text x="394.9" y="905.2" font-size="19.1" textLength="6.4" lengthAdjust="spacingAndGlyphs" stroke="#000" stroke-width="1.8" fill="#000">3</text>
<path d="M403.1,891.3 L406.7,891.3 L406.7,905.7 L403.1,905.7 L403.1,895.5 L401.8,895.9 L401.8,893.5 Z" stroke="none"/>
<text transform="translate(320.76,1042.20) scale(0.7783,1)" x="0" y="0" font-size="23.6" stroke-width="2.1">I</text>
<text transform="translate(328.51,1042.20) scale(0.9408,1)" x="0" y="0" font-size="23.6" stroke-width="2.1">N</text>
<text transform="translate(346.36,1042.20) scale(0.7860,1)" x="0" y="0" font-size="23.6" stroke-width="2.1">T</text>
<text transform="translate(361.54,1042.20) scale(0.6600,1)" x="0" y="0" font-size="23.6" stroke-width="2.1">E</text>
<text transform="translate(375.16,1042.20) scale(0.7771,1)" x="0" y="0" font-size="23.6" stroke-width="2.1">R</text>
<text transform="translate(391.42,1042.20) scale(0.8648,1)" x="0" y="0" font-size="23.6" stroke-width="2.1">I</text>
<text transform="translate(398.67,1042.20) scale(0.9288,1)" x="0" y="0" font-size="23.6" stroke-width="2.1">O</text>
<text transform="translate(418.51,1042.20) scale(0.8767,1)" x="0" y="0" font-size="23.6" stroke-width="2.1">R</text>
<text transform="translate(450.78,1042.20) scale(0.6988,1)" x="0" y="0" font-size="23.6" stroke-width="2.1">P</text>
<text transform="translate(462.29,1042.20) scale(0.9570,1)" x="0" y="0" font-size="23.6" stroke-width="2.1">A</text>
<text transform="translate(481.86,1042.20) scale(0.7106,1)" x="0" y="0" font-size="23.6" stroke-width="2.1">R</text>
<text transform="translate(496.68,1042.20) scale(0.7288,1)" x="0" y="0" font-size="23.6" stroke-width="2.1">T</text>
<text transform="translate(509.80,1042.20) scale(0.6757,1)" x="0" y="0" font-size="23.6" stroke-width="2.1">S</text>
<text x="80" y="1064.8" font-size="19.4" stroke-width="0.7" textLength="17.4" lengthAdjust="spacingAndGlyphs">26</text>
</g>
</svg></body></html>
